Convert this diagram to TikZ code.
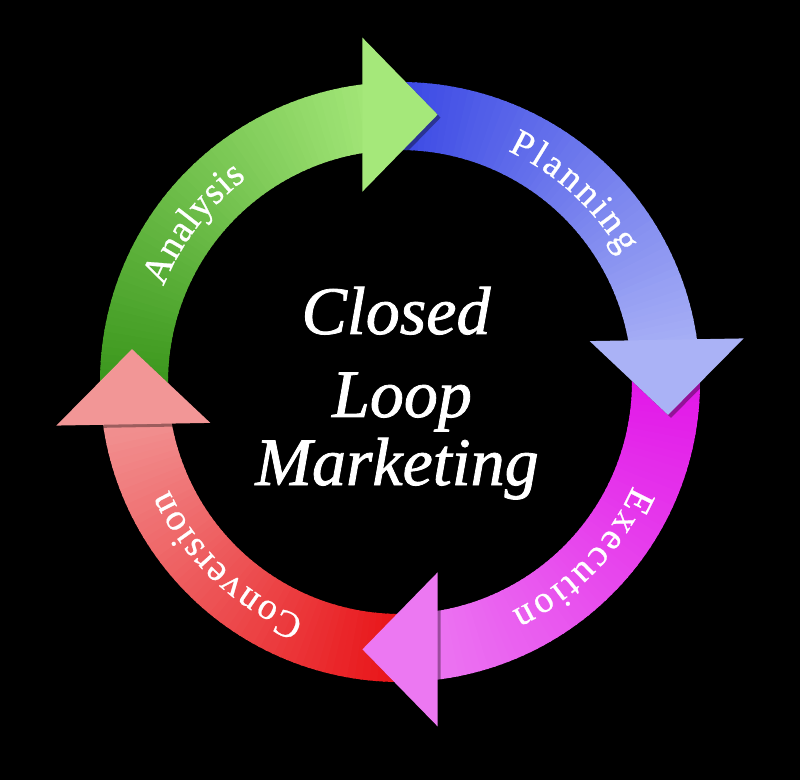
\documentclass[tikz,border=0pt]{standalone}
\usepackage{fontspec}
\setmainfont{Liberation Serif}
\newfontfamily\lblfam{Liberation Serif}[FakeBold=0.6]
\newfontfamily\ctrfam{Liberation Serif Italic}[FakeBold=1.2]
\usetikzlibrary{calc,decorations.text}
\definecolor{gA}{RGB}{58,150,28}
\definecolor{gB}{RGB}{165,232,122}
\definecolor{bA}{RGB}{56,70,228}
\definecolor{bB}{RGB}{170,178,246}
\definecolor{mA}{RGB}{226,22,232}
\definecolor{mB}{RGB}{236,120,242}
\definecolor{rA}{RGB}{232,16,20}
\definecolor{rB}{RGB}{242,150,150}
\newcommand\lbl{\lblfam\fontsize{38}{44}\selectfont\color{white}}
\newcommand\arcbody[4]{%
  \foreach \i in {0,...,59}{%
    \pgfmathsetmacro\aone{#1-(#1-(#2))*\i/60}%
    \pgfmathsetmacro\atwo{#1-(#1-(#2))*(\i+1)/60-0.4}%
    \pgfmathtruncatemacro\pp{100*\i/59}%
    \fill[#4!\pp!#3] (\aone:300) arc[start angle=\aone,end angle=\atwo,radius=300]
      -- (\atwo:232) arc[start angle=\atwo,end angle=\aone,radius=232] -- cycle;
  }}
\newcommand\arrhead[3]{%
  \coordinate (#1t) at (#2:270);
  \coordinate (#1b) at (#2+16:270);
  \fill[black,opacity=0.35] ([shift={(3,-3)}]$(#1b)!77pt!90:(#1t)$) -- ([shift={(3,-3)}]#1t) -- ([shift={(3,-3)}]$(#1b)!77pt!-90:(#1t)$) -- cycle;
  \fill[#3] ($(#1b)!77pt!90:(#1t)$) -- (#1t) -- ($(#1b)!77pt!-90:(#1t)$) -- cycle;}
\newcommand\arclabel[3]{%
  \path[decorate,decoration={text along path,text align=fit to path,text={|\lbl|#3}}]
    (#1:255) arc[start angle=#1,end angle=#2,radius=255];}
\tikzset{ctr/.style={text=white,font=\ctrfam\fontsize{68}{68}\selectfont,anchor=base,inner sep=0}}
\begin{document}
\begin{tikzpicture}[x=1pt,y=1pt]
\fill[black] (0,0) rectangle (800,780);
\begin{scope}[shift={(400,398)}]
  % bodies
  \arcbody{182}{94}{gA}{gB}
  \arcbody{93}{5}{bA}{bB}
  \arcbody{2}{-86}{mA}{mB}
  \arcbody{-87}{-175}{rA}{rB}
  % heads
  \arrhead{g}{82}{gB}
  \arrhead{b}{-7}{bB}
  \arrhead{m}{-98}{mB}
  \arrhead{r}{-187}{rB}
  % labels
  \arclabel{158}{127}{Analysis}
  \arclabel{65}{30}{Planning}
  \arclabel{-24}{-64}{Execution}
  \arclabel{248}{205}{Conversion}
  % centre text
  \node[ctr] (closed) at (-4,48) {Closed};
  \node[ctr] (loop) at (2,-35) {Loop};
  \node[ctr] (marketing) at (-3,-103) {Marketing};
\end{scope}
\end{tikzpicture}
\end{document}
